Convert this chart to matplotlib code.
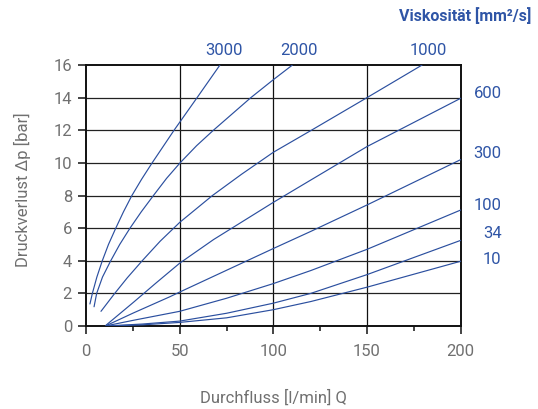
import matplotlib
matplotlib.use("Agg")
import matplotlib.pyplot as plt
from matplotlib.ticker import MultipleLocator

plt.rcParams['font.family'] = ['Roboto', 'DejaVu Sans']

# ---- data ----
labels = ["3000", "2000", "1000", "600", "300", "100", "34", "10"]

q_3000 = [2.1, 3.4, 5.8, 8.7, 12.0, 15.9, 20.0, 24.5, 29.7, 35.3, 47.0, 59.3, 71.5]
p_3000 = [1.35, 2.0, 3.0, 4.0, 5.0, 6.0, 7.0, 8.0, 9.0, 10.0, 12.0, 14.0, 16.0]

q_2000 = [4.3, 5.7, 8.8, 13.2, 18.0, 23.5, 29.5, 36.0, 43.0, 50.2, 59.0, 68.0, 88.0, 100.0, 110.2]
p_2000 = [1.18, 2.0, 3.0, 4.0, 5.0, 6.0, 7.0, 8.0, 9.05, 10.0, 11.05, 12.0, 14.0, 15.1, 16.0]

q_1000 = [8.0, 15.0, 22.0, 30.0, 39.6, 50.0, 67.5, 83.0, 100.0, 120.0, 150.0, 179.4]
p_1000 = [0.9, 1.95, 2.95, 4.0, 5.2, 6.35, 8.0, 9.3, 10.65, 11.98, 14.0, 16.0]

q_600 = [10.7, 25.3, 37.0, 50.0, 68.1, 100.0, 120.0, 150.0, 200.0]
p_600 = [0.05, 1.45, 2.6, 3.85, 5.3, 7.58, 8.95, 11.0, 13.96]

q_300 = [10.7, 25.3, 44.9, 50.0, 100.0, 120.0, 150.0, 200.0]
p_300 = [0.02, 0.8, 1.8, 2.08, 4.75, 5.8, 7.42, 10.2]

q_100 = [10.7, 25.3, 50.0, 75.0, 100.0, 120.0, 150.0, 200.0]
p_100 = [0.01, 0.35, 0.9, 1.7, 2.6, 3.4, 4.7, 7.11]

q_34 = [10.7, 30.0, 50.0, 75.0, 100.0, 120.0, 150.0, 200.0]
p_34 = [0.0, 0.12, 0.3, 0.78, 1.4, 2.0, 3.15, 5.25]

q_10 = [10.7, 30.0, 50.0, 75.0, 100.0, 120.0, 150.0, 200.0]
p_10 = [0.0, 0.07, 0.22, 0.5, 1.0, 1.5, 2.38, 3.97]

series_q = [q_3000, q_2000, q_1000, q_600, q_300, q_100, q_34, q_10]
series_p = [p_3000, p_2000, p_1000, p_600, p_300, p_100, p_34, p_10]

x_ticks = [0, 50, 100, 150, 200]
y_ticks = [0, 2, 4, 6, 8, 10, 12, 14, 16]

# label anchor positions (data coords)
top_label_x = [73.8, 113.9, 182.9]
right_label_y = [14.27, 10.59, 7.38, 5.64, 4.09]

BLUE = "#2f55a6"
LINE_BLUE = "#2b4f9f"
GRAY = "#707070"

fig = plt.figure(figsize=(5.38, 4.09), dpi=100)
ax = fig.add_axes([86/538, 1-326/409, (460.7-86)/538, (326-65)/409])

ax.set_xlim(0, 200)
ax.set_ylim(0, 16)

for v in [50, 100, 150]:
    ax.axvline(v, color="#111111", lw=0.9, zorder=1)
for v in range(2, 16, 2):
    ax.axhline(v, color="#222222", lw=0.9, zorder=1)

for q, p in zip(series_q, series_p):
    ax.plot(q, p, color=LINE_BLUE, lw=0.85, zorder=3,
            solid_capstyle='round', solid_joinstyle='round')

for s in ax.spines.values():
    s.set_linewidth(1.4)
    s.set_color("#111111")

ax.set_xticks(x_ticks)
ax.set_yticks(y_ticks)
ax.xaxis.set_minor_locator(MultipleLocator(25))
ax.tick_params(axis='both', which='major', direction='out', length=6, width=1.1,
               color="#111111", labelcolor=GRAY, labelsize=12)
ax.tick_params(axis='x', which='major', pad=7)
ax.tick_params(axis='y', which='major', pad=4)
ax.tick_params(axis='x', which='minor', direction='out', length=3.5, width=1.1, color="#111111")

# top labels
for lab, x in zip(labels[:3], top_label_x):
    ax.text(x, 16.88, lab, color=BLUE, fontsize=12, ha='center', va='center', clip_on=False)
# right labels
for lab, y in zip(labels[3:], right_label_y):
    ax.text(221.9, y, lab, color=BLUE, fontsize=12, ha='right', va='center', clip_on=False)

fig.text(531.5/538, 1-16/409, "Viskosität [mm²/s]", color=BLUE, fontsize=11.5,
         fontweight='bold', ha='right', va='center')

fig.text(273/538, 1-398/409, "Durchfluss [l/min] Q", color=GRAY, fontsize=12,
         ha='center', va='center')
fig.text(22/538, 1-190/409, "Druckverlust Δp [bar]", color=GRAY, fontsize=12,
         ha='center', va='center', rotation=90)

fig.savefig("out.png", dpi=100)
